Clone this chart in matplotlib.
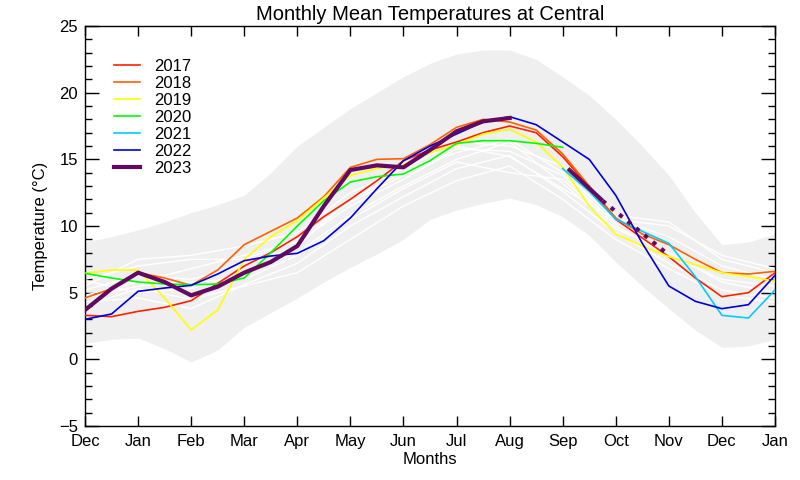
import numpy as np
import matplotlib
matplotlib.use("Agg")
import matplotlib.pyplot as plt
from matplotlib.ticker import MultipleLocator

plt.rcParams['font.family'] = ['Liberation Sans', 'DejaVu Sans']

# month labels along the x axis (Dec .. Jan, 14 ticks)
month_labels = ['Dec', 'Jan', 'Feb', 'Mar', 'Apr', 'May', 'Jun',
                'Jul', 'Aug', 'Sep', 'Oct', 'Nov', 'Dec', 'Jan']

# readings every half month, Dec (0) .. Jan (13)
half_months = np.arange(0, 13.01, 0.5)

band_upper = [8.8, 9.2, 9.7, 10.3, 11.0, 11.6, 12.3, 14.0, 16.0, 17.4, 18.8, 20.0, 21.2, 22.2,
              22.9, 23.2, 23.2, 22.5, 21.2, 19.8, 18.0, 16.0, 13.8, 11.0, 8.6, 8.8, 9.4]
band_lower = [1.2, 1.5, 1.6, 0.8, -0.2, 0.7, 2.4, 3.5, 4.6, 5.8, 6.9, 7.9, 9.0, 10.5,
              11.2, 11.7, 12.1, 11.6, 10.7, 9.3, 7.3, 5.5, 3.8, 2.2, 0.9, 1.0, 1.5]

t2017 = [3.3, 3.2, 3.6, 3.9, 4.4, 5.7, 7.0, 8.0, 9.2, 10.7, 12.0, 13.4, 14.9, 15.7,
         16.3, 17.0, 17.5, 17.0, 15.2, 12.9, 10.5, 9.1, 7.7, 6.1, 4.7, 5.0, 6.5]
t2018 = [4.6, 5.3, 6.5, 6.1, 5.55, 6.7, 8.6, 9.6, 10.6, 12.2, 14.4, 15.0, 15.05, 16.1,
         17.4, 18.0, 17.8, 17.2, 15.4, 13.0, 10.6, 9.4, 8.6, 7.5, 6.5, 6.4, 6.6]
t2019 = [6.45, 6.7, 6.7, 4.6, 2.2, 3.7, 7.5, 9.2, 10.4, 12.1, 13.8, 14.3, 14.6, 15.5,
         16.1, 16.9, 17.25, 16.3, 14.4, 11.5, 9.4, 8.5, 7.7, 7.1, 6.5, 6.2, 5.85]
t2020 = [6.45, 6.1, 5.8, 5.65, 5.6, 5.65, 6.1, 8.0, 10.0, 11.9, 13.3, 13.7, 13.9, 14.9,
         16.2, 16.4, 16.4, 16.2, 15.9, np.nan, np.nan, np.nan, np.nan, np.nan, np.nan, np.nan, np.nan]
t2021 = [np.nan] * 18 + [14.3, 12.6, 10.5, 9.6, 8.7, 6.2, 3.3, 3.1, 5.2]
t2022 = [3.0, 3.4, 5.1, 5.35, 5.55, 6.4, 7.4, 7.75, 7.95, 8.9, 10.6, 12.8, 14.9, 16.0,
         16.9, 17.8, 18.2, 17.6, 16.3, 15.0, 12.3, 8.7, 5.5, 4.35, 3.8, 4.1, 6.3]
t2023 = [3.7, 5.3, 6.5, 5.8, 4.8, 5.45, 6.5, 7.3, 8.5, 11.5, 14.2, 14.55, 14.4, 15.7,
         17.1, 17.85, 18.1] + [np.nan] * 10

# 2023 continuation (Sep -> Nov), solid then dashed
fc_solid_x = [9.1, 9.75]
fc_solid_y = [14.3, 11.9]
fc_dash_x = [9.75, 10.96]
fc_dash_y = [11.9, 7.95]

# past years (white), monthly readings Dec .. Jan
past_years = [
    [5.5, 7.5, 7.8, 8.5, 9.5, 12.5, 14.3, 16.3, 16.0, 14.5, 10.8, 10.3, 7.5, 6.5],
    [4.8, 5.8, 6.8, 7.8, 8.8, 11.5, 13.5, 15.8, 15.6, 13.8, 10.2, 8.6, 6.5, 5.8],
    [5.9, 5.0, 5.3, 6.5, 8.0, 10.8, 13.0, 15.0, 16.3, 13.2, 9.8, 8.0, 5.8, 5.0],
    [4.3, 4.6, 3.8, 5.6, 7.2, 10.0, 12.2, 14.3, 15.3, 12.6, 9.5, 7.2, 5.2, 4.6],
    [5.2, 6.3, 6.0, 7.0, 8.5, 12.0, 14.0, 15.5, 16.5, 14.0, 10.5, 9.2, 7.0, 6.0],
    [4.0, 5.3, 4.5, 5.5, 6.5, 9.0, 11.5, 13.4, 14.5, 12.0, 9.0, 6.8, 4.8, 4.3],
    [6.0, 7.0, 7.5, 7.5, 9.0, 11.8, 13.8, 16.0, 15.2, 12.8, 10.5, 10.0, 7.8, 6.8],
    [4.6, 5.5, 5.8, 6.0, 7.8, 10.5, 12.8, 14.8, 14.0, 13.5, 10.0, 7.8, 6.0, 5.5],
]

series = [
    ('2017', t2017, '#ff2000', 1.2),
    ('2018', t2018, '#ff6000', 1.2),
    ('2019', t2019, '#ffff00', 1.2),
    ('2020', t2020, '#00ff00', 1.2),
    ('2021', t2021, '#00ccff', 1.2),
    ('2022', t2022, '#0000dd', 1.2),
    ('2023', t2023, '#620a62', 3.0),
]

fig = plt.figure(figsize=(8, 4.8), dpi=100)
ax = fig.add_axes([0.10625, 0.1125, 0.8625, 0.8333])

ax.fill_between(half_months, band_lower, band_upper, color='#efefef', lw=0, zorder=1)
for vals in past_years:
    ax.plot(range(len(month_labels)), vals, color='white', lw=1.0, zorder=2)

for name, vals, col, lw in series:
    ax.plot(half_months, vals, color=col, lw=lw, label=name, zorder=3,
            solid_joinstyle='round')

ax.plot(fc_solid_x, fc_solid_y, color='#620a62', lw=3.0, zorder=4, solid_capstyle='butt')
ax.plot(fc_dash_x, fc_dash_y, color='#620a62', lw=3.0, zorder=4, linestyle=(0, (1.0, 1.6)))

ax.set_xlim(0, 13)
ax.set_ylim(-5, 25)
ax.set_xticks(range(len(month_labels)))
ax.set_xticklabels(month_labels)
ax.yaxis.set_major_locator(MultipleLocator(5))
ax.yaxis.set_minor_locator(MultipleLocator(1))
ax.tick_params(axis='both', which='both', direction='in', top=True, right=True,
               labelsize=12, width=1.0, color='black')
ax.tick_params(axis='x', which='major', length=7, pad=6)
ax.tick_params(axis='y', which='major', length=10, pad=5)
ax.tick_params(axis='y', which='minor', length=5)
for sp in ax.spines.values():
    sp.set_linewidth(1.0)

ax.set_title('Monthly Mean Temperatures at Central', fontsize=14.5, pad=4)
ax.set_xlabel('Months', fontsize=12, labelpad=2)
ax.set_ylabel('Temperature (°C)', fontsize=12, labelpad=8)

ax.legend(loc='upper left', bbox_to_anchor=(0.02, 0.955), frameon=False, fontsize=12,
          handlelength=1.6, handletextpad=0.8, labelspacing=0.12, borderaxespad=0.5)

fig.savefig('out.png', dpi=100)
